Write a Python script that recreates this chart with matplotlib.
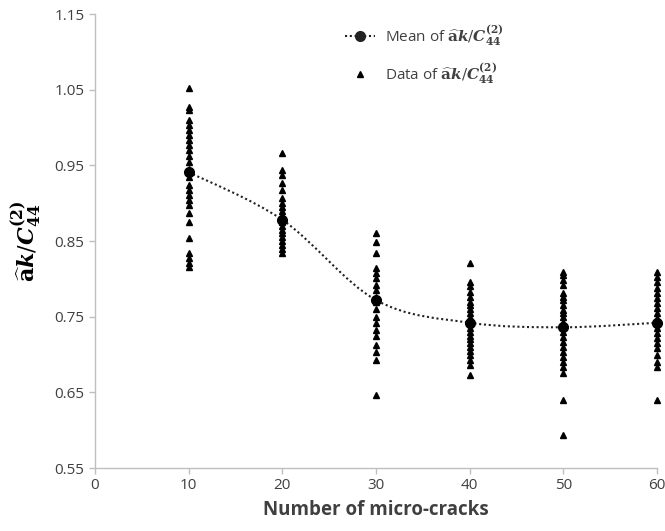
import numpy as np
import matplotlib
matplotlib.use("Agg")
import matplotlib.pyplot as plt
from matplotlib.path import Path
from matplotlib.patches import PathPatch
from matplotlib.lines import Line2D

plt.rcParams['font.family'] = ['Open Sans', 'DejaVu Sans']
plt.rcParams['mathtext.fontset'] = 'dejavuserif'

# number of micro-cracks per group
cracks = [10, 20, 30, 40, 50, 60]

# individual samples
data_10 = [1.052, 1.027, 1.023, 1.010, 1.003, 0.997, 0.990, 0.983, 0.977, 0.970,
           0.963, 0.954, 0.945, 0.935, 0.924, 0.917, 0.911, 0.904, 0.898, 0.887,
           0.875, 0.854, 0.834, 0.828, 0.821, 0.816]
data_20 = [0.966, 0.944, 0.937, 0.927, 0.917, 0.907, 0.900, 0.895, 0.890, 0.885,
           0.880, 0.875, 0.870, 0.865, 0.860, 0.855, 0.850, 0.845, 0.840, 0.834]
data_30 = [0.861, 0.849, 0.834, 0.814, 0.808, 0.801, 0.792, 0.785, 0.776, 0.770,
           0.760, 0.750, 0.742, 0.733, 0.725, 0.712, 0.703, 0.693, 0.646]
data_40 = [0.821, 0.796, 0.790, 0.782, 0.776, 0.770, 0.765, 0.760, 0.755, 0.750,
           0.745, 0.740, 0.735, 0.730, 0.725, 0.720, 0.715, 0.710, 0.705, 0.700,
           0.693, 0.686, 0.673]
data_50 = [0.809, 0.805, 0.798, 0.792, 0.781, 0.776, 0.772, 0.765, 0.759, 0.755,
           0.750, 0.743, 0.736, 0.730, 0.723, 0.717, 0.710, 0.703, 0.697, 0.690,
           0.683, 0.676, 0.640, 0.594]
data_60 = [0.809, 0.802, 0.796, 0.788, 0.781, 0.775, 0.768, 0.761, 0.755, 0.748,
           0.742, 0.735, 0.728, 0.722, 0.715, 0.708, 0.699, 0.690, 0.683, 0.640]

# group means
means = [0.941, 0.878, 0.772, 0.742, 0.736, 0.742]

yticks = [0.55, 0.65, 0.75, 0.85, 0.95, 1.05, 1.15]
xticks = [0, 10, 20, 30, 40, 50, 60]

label_txt = r'$\widehat{\mathbf{a}}\boldsymbol{k}/\boldsymbol{C}_{\mathbf{44}}^{\mathbf{(2)}}$'

fig = plt.figure(figsize=(6.65, 5.31), dpi=100)
ax = fig.add_axes([0.1429, 0.1186, 0.988 - 0.1429, 0.9736 - 0.1186])

groups = [data_10, data_20, data_30, data_40, data_50, data_60]
for xv, vals in zip(cracks, groups):
    ax.plot([xv] * len(vals), vals, linestyle='none', marker='^', ms=4.5,
            color='black', zorder=3, clip_on=False)

dots = (0, (1, 1.3))

# smooth dotted line through means (excel style bezier)
pts = np.column_stack([cracks, means]).astype(float)
verts = [tuple(pts[0])]
codes = [Path.MOVETO]
t = 1.0 / 6.0
for i in range(len(pts) - 1):
    p0 = pts[i - 1] if i > 0 else pts[i]
    p1 = pts[i]
    p2 = pts[i + 1]
    p3 = pts[i + 2] if i + 2 < len(pts) else pts[i + 1]
    c1 = p1 + (p2 - p0) * t
    c2 = p2 - (p3 - p1) * t
    verts += [tuple(c1), tuple(c2), tuple(p2)]
    codes += [Path.CURVE4] * 3
ax.add_patch(PathPatch(Path(verts, codes), fill=False, edgecolor='#222222',
                       linestyle=dots, linewidth=1.5, zorder=2))
ax.plot(cracks, means, linestyle='none', marker='o', ms=7, color='black',
        zorder=4, clip_on=False)

ax.set_xlim(0, 60)
ax.set_ylim(0.55, 1.15)
ax.set_xticks(xticks)
ax.set_yticks(yticks)
ax.set_yticklabels([f'{v:.2f}' for v in yticks])

for s in ['top', 'right']:
    ax.spines[s].set_visible(False)
for s in ['left', 'bottom']:
    ax.spines[s].set_color('#BFBFBF')
    ax.spines[s].set_linewidth(1.0)
ax.tick_params(axis='both', colors='#BFBFBF', labelcolor='#404040',
               labelsize=11, length=4, width=1.0)

ax.set_xlabel('Number of micro-cracks', fontsize=13.5, fontweight='bold',
              color='#404040', labelpad=5)
ax.set_ylabel(label_txt, fontsize=16, color='black', labelpad=8)

handles = [
    Line2D([], [], color='#222222', linestyle=dots, linewidth=1.5,
           marker='o', ms=7),
    Line2D([], [], color='black', linestyle='none', marker='^', ms=4.5),
]
labels = ['Mean of ' + label_txt, 'Data of ' + label_txt]
ax.legend(handles, labels, loc='upper left', bbox_to_anchor=(0.42, 1.01),
          frameon=False, fontsize=11, handlelength=2.0, labelspacing=0.9,
          handletextpad=0.6, labelcolor='#404040')

fig.savefig('out.png', dpi=100)
